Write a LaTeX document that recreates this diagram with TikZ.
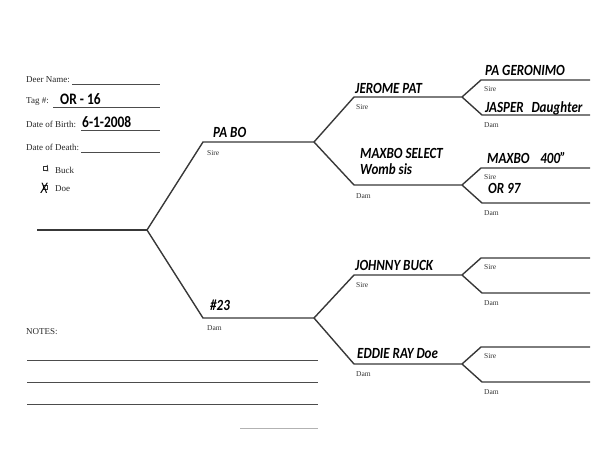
\documentclass[tikz,border=0pt]{standalone}
\usepackage{fontspec}
\setmainfont{Liberation Serif}
\newfontfamily\handfont[FakeStretch=0.84]{Carlito}
\usetikzlibrary{positioning}

\begin{document}
\begin{tikzpicture}[
  x=1pt,y=-1pt,
  ink/.style={draw=black!78,line width=1.4pt,line join=miter},
  rule/.style={draw=black!70,line width=0.7pt},
  hand/.style={anchor=base west,inner sep=0pt,font=\handfont\bfseries\itshape\fontsize{15.5}{16}\selectfont},
  entry/.style={hand,font=\handfont\bfseries\fontsize{16}{16}\selectfont},
  sex/.style={anchor=base west,inner sep=0pt,font=\fontsize{7.5}{8}\selectfont,text=black!80},
  field/.style={anchor=base west,inner sep=0pt,font=\fontsize{9}{10}\selectfont,text=black!85},
  chk/.style={draw=black!80,line width=0.5pt,minimum size=4pt,inner sep=0pt}
]
\useasboundingbox (0,0) rectangle (600,453);

% record fields
\node[field] (dname) at (26,82) {Deer Name:};
\node[field] (dtag) at (26,103) {Tag \#:};
\node[field] (dbirth) at (26,127) {Date of Birth:};
\node[field] (ddeath) at (26,150) {Date of Death:};
\coordinate (l1a) at (72,84);  \coordinate (l1b) at (160,84);
\coordinate (l2a) at (53,107); \coordinate (l2b) at (160,107);
\coordinate (l3a) at (81,130); \coordinate (l3b) at (160,130);
\coordinate (l4a) at (81,152); \coordinate (l4b) at (160,152);
\draw[rule] (l1a) -- (l1b);
\draw[rule] (l2a) -- (l2b);
\draw[rule] (l3a) -- (l3b);
\draw[rule] (l4a) -- (l4b);
\node[entry] (vtag) at (60,104) {OR - 16};
\node[entry] (vbirth) at (82,127) {6-1-2008};

\node[chk] (buckbox) at (45,168) {};
\draw[black!80,line width=0.8pt] ([xshift=0.8pt]buckbox.south west) -- ([xshift=0.6pt,yshift=-0.6pt]buckbox.south east) -- ([yshift=0.8pt]buckbox.north east);
\node[field] (buck) at (55,173) {Buck};
\node[chk] (doebox) at (45,187) {};
\node[entry,anchor=center,font=\handfont\itshape\fontsize{16}{16}\selectfont] (doex) at (44,188) {X};
\node[field] (doe) at (55,191) {Doe};

% pedigree lines
\coordinate (r0) at (37,230);  \coordinate (r1) at (147,230);
\coordinate (s0) at (203,142); \coordinate (s1) at (314,142);
\coordinate (d0) at (203,318); \coordinate (d1) at (314,318);
\coordinate (ss0) at (354,97);  \coordinate (ss1) at (462,97);
\coordinate (sd0) at (354,185); \coordinate (sd1) at (462,185);
\coordinate (ds0) at (354,275); \coordinate (ds1) at (462,275);
\coordinate (dd0) at (354,364); \coordinate (dd1) at (462,364);

\draw[ink] (r0) -- (r1);
\draw[ink] (r1) -- (s0) -- (s1);
\draw[ink] (r1) -- (d0) -- (d1);
\draw[ink] (s1) -- (ss0) -- (ss1);
\draw[ink] (s1) -- (sd0) -- (sd1);
\draw[ink] (d1) -- (ds0) -- (ds1);
\draw[ink] (d1) -- (dd0) -- (dd1);

\foreach \p/\y in {ss1/97,sd1/185,ds1/275,dd1/364}{
  \coordinate (\p u0) at (481,\y-17); \coordinate (\p u1) at (590,\y-17);
  \coordinate (\p l0) at (482,\y+18); \coordinate (\p l1) at (590,\y+18);
  \draw[ink] (\p) -- (\p u0) -- (\p u1);
  \draw[ink] (\p) -- (\p l0) -- (\p l1);
  \node[sex] at (484,\y-6) {Sire};
  \node[sex] at (484,\y+30) {Dam};
}

% names
\node[hand] (pabo) at (213,137) {PA BO};
\node[sex] (pabotag) at (207,155) {Sire};
\node[hand] (n23) at (210,310) {\#23};
\node[sex] (n23tag) at (207,330) {Dam};

\node[hand] (jerome) at (355,93) {JEROME PAT};
\node[sex] (jerometag) at (356,109) {Sire};
\node[hand] (maxbos) at (360,158) {MAXBO SELECT};
\node[hand] (womb) at (360,174) {Womb sis};
\node[sex] (maxbostag) at (356,198) {Dam};
\node[hand] (johnny) at (355,270) {JOHNNY BUCK};
\node[sex] (johnnytag) at (356,287) {Sire};
\node[hand] (eddie) at (357,358) {EDDIE RAY Doe};
\node[sex] (eddietag) at (356,376) {Dam};

\node[hand] (geronimo) at (485,75) {PA GERONIMO};
\node[hand] (jasper) at (485,112) {JASPER\enspace Daughter};
\node[hand] (maxbo) at (487,163) {MAXBO\enspace\ 400”};
\node[hand] (or97) at (488,193) {OR 97};

% notes
\node[field] (notes) at (26,334) {NOTES:};
\coordinate (n1a) at (27,360);  \coordinate (n1b) at (318,360);
\coordinate (n2a) at (27,382);  \coordinate (n2b) at (318,382);
\coordinate (n3a) at (27,404);  \coordinate (n3b) at (318,404);
\coordinate (n4a) at (240,428); \coordinate (n4b) at (318,428);
\draw[rule] (n1a) -- (n1b);
\draw[rule] (n2a) -- (n2b);
\draw[rule] (n3a) -- (n3b);
\draw[rule,black!30] (n4a) -- (n4b);
\end{tikzpicture}
\end{document}
